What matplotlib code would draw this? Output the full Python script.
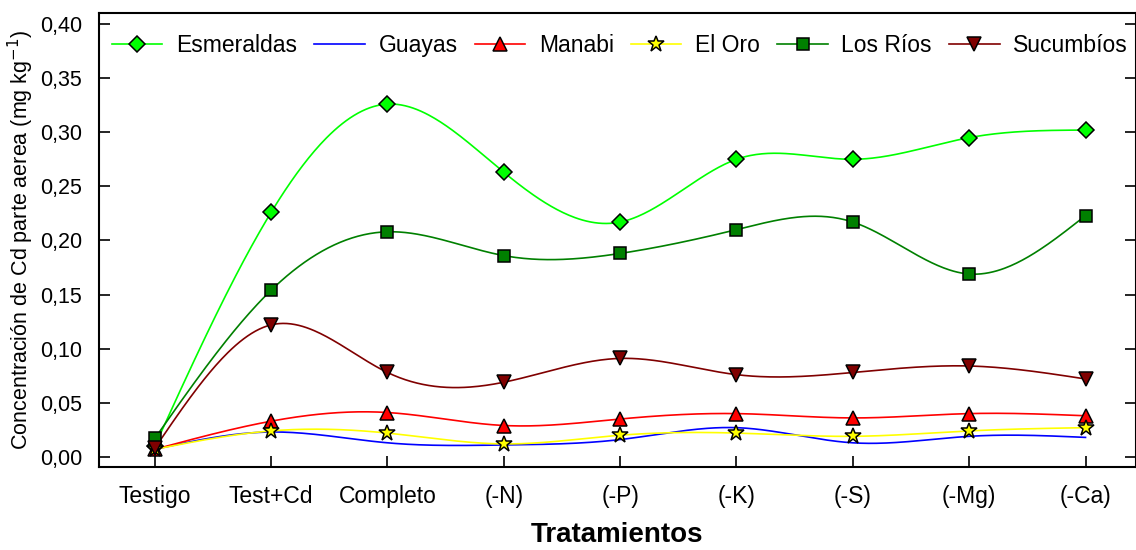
import numpy as np
import matplotlib
matplotlib.use('Agg')
from matplotlib import pyplot as plt

plt.rcParams['font.family'] = ['Liberation Sans', 'DejaVu Sans']

tratamientos = ['Testigo', 'Test+Cd', 'Completo', '(-N)', '(-P)', '(-K)', '(-S)', '(-Mg)', '(-Ca)']

esmeraldas = [0.010, 0.226, 0.326, 0.263, 0.217, 0.275, 0.275, 0.295, 0.302]
guayas     = [0.007, 0.023, 0.013, 0.011, 0.016, 0.027, 0.013, 0.019, 0.018]
manabi     = [0.007, 0.033, 0.041, 0.029, 0.035, 0.040, 0.036, 0.040, 0.038]
el_oro     = [0.007, 0.024, 0.022, 0.012, 0.020, 0.022, 0.019, 0.024, 0.027]
los_rios   = [0.017, 0.154, 0.208, 0.186, 0.188, 0.210, 0.217, 0.169, 0.223]
sucumbios  = [0.008, 0.122, 0.078, 0.069, 0.091, 0.076, 0.078, 0.084, 0.072]

#%%

def spline(x, y, n=60):
    # natural cubic spline, only for drawing the smooth line
    x = np.asarray(x, float)
    y = np.asarray(y, float)
    m = len(x)
    h = np.diff(x)
    A = np.zeros((m, m))
    b = np.zeros(m)
    A[0, 0] = 1
    A[-1, -1] = 1
    for i in range(1, m-1):
        A[i, i-1] = h[i-1]
        A[i, i] = 2*(h[i-1]+h[i])
        A[i, i+1] = h[i]
        b[i] = 3*((y[i+1]-y[i])/h[i] - (y[i]-y[i-1])/h[i-1])
    c = np.linalg.solve(A, b)
    xs, ys = [], []
    for i in range(m-1):
        bi = (y[i+1]-y[i])/h[i] - h[i]*(2*c[i]+c[i+1])/3
        di = (c[i+1]-c[i])/(3*h[i])
        t = np.linspace(0, h[i], n)
        xs.append(x[i]+t)
        ys.append(y[i] + bi*t + c[i]*t**2 + di*t**3)
    return np.concatenate(xs), np.concatenate(ys)

#%%

series = [
    ('Esmeraldas', esmeraldas, '#00ff00', 'D', 8.5),
    ('Guayas', guayas, '#0000ff', None, 0),
    ('Manabi', manabi, '#ff0000', '^', 10.5),
    ('El Oro', el_oro, '#ffff00', '*', 12),
    ('Los Ríos', los_rios, '#008000', 's', 9),
    ('Sucumbíos', sucumbios, '#800000', 'v', 10.5),
]

fig = plt.figure(figsize=(11.36, 5.5), dpi=100)
ax = fig.add_axes([0.0871, 0.151, 0.9125, 0.825])

x = np.arange(len(tratamientos))
for name, vals, col, mk, ms in series:
    xs, ys = spline(x, vals)
    ax.plot(xs, ys, color=col, lw=1.2, zorder=2)
    if mk:
        ax.plot(x, vals, linestyle='none', marker=mk, ms=ms, mfc=col,
                mec='black', mew=1.1, zorder=3)
    ax.plot([], [], color=col, lw=1.2, marker=mk, ms=ms, mfc=col,
            mec='black', mew=1.1, label=name)

ax.set_xlim(-0.48, 8.43)
ax.set_ylim(-0.0093, 0.41)
ax.set_xticks(x)
ax.set_xticklabels(tratamientos, fontsize=16.5)
yt = np.arange(0, 0.401, 0.05)
ax.set_yticks(yt)
ax.set_yticklabels([('%.2f' % v).replace('.', ',') for v in yt], fontsize=15.5)
ax.tick_params(axis='both', direction='in', length=8, width=1.2)
ax.tick_params(axis='x', pad=13)
ax.tick_params(axis='y', pad=12, right=True)
for s in ax.spines.values():
    s.set_linewidth(1.5)

ax.set_xlabel('Tratamientos', fontsize=20, weight='bold', labelpad=10)
ax.set_ylabel('Concentración de Cd parte aerea (mg kg$^{-1}$)', fontsize=15.5, labelpad=3)

ax.legend(loc='upper left', bbox_to_anchor=(-0.003, 0.99), ncol=6, frameon=False,
          fontsize=16.5, handlelength=2.2, handletextpad=0.6, columnspacing=0.75,
          borderaxespad=0.3)

plt.savefig('out.png', dpi=100)
